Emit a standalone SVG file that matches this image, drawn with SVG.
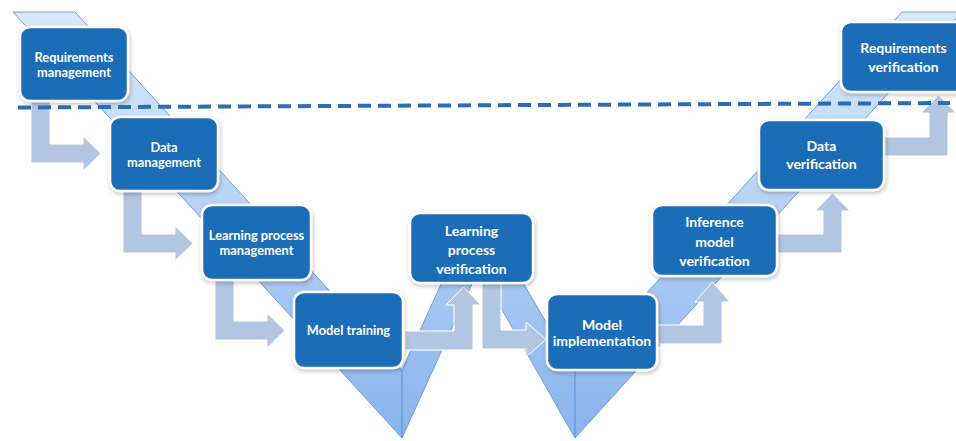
<svg xmlns="http://www.w3.org/2000/svg" width="956" height="441" viewBox="0 0 956 441">
  <defs>
    <linearGradient id="band" gradientUnits="userSpaceOnUse" x1="0" y1="0" x2="0" y2="441">
      <stop offset="0" stop-color="#dcebfc"/>
      <stop offset="0.5" stop-color="#b4d0f5"/>
      <stop offset="1" stop-color="#88b3ec"/>
    </linearGradient>
    <filter id="shadow" x="-10%" y="-10%" width="130%" height="140%">
      <feDropShadow dx="1" dy="2" stdDeviation="2" flood-color="#000" flood-opacity="0.25"/>
    </filter>
  </defs>
  <style>
    .band { fill: url(#band); stroke: #6d9edc; stroke-width: 1; stroke-linejoin: round; }
    .arrow { fill: #b3c6e1; stroke: #ffffff; stroke-width: 1; stroke-linejoin: miter; }
    .box { fill: #1f6db7; stroke: #ffffff; stroke-width: 2.5; filter: url(#shadow); }
    .t { fill: #ffffff; font-family: Lato, "Liberation Sans", sans-serif; font-weight: 700; text-anchor: middle; }
    .s { font-size: 12.8px; }
    .l { font-size: 14px; }
    .dash { fill: none; stroke: #2b6db5; stroke-width: 4; stroke-dasharray: 13 7; }
  </style>
  <rect width="956" height="441" fill="#ffffff"/>

  <g id="v-bands">
    <polygon class="band" points="13,12 75,12 402,370 402,438"/>
    <polygon class="band" points="402,370 456.5,250 487.5,250 402,438"/>
    <polygon class="band" points="468,250 504,250 575,372 575,438"/>
    <polygon class="band" points="575,372 902,12 962,12 575,438"/>
    <line x1="402" y1="370" x2="402" y2="438" stroke="#6d9edc" stroke-width="1"/>
    <line x1="575" y1="372" x2="575" y2="438" stroke="#6d9edc" stroke-width="1"/>
  </g>

  <g id="connectors">
    <path class="arrow" d="M31,100 H50 V144 H83 V136 L101,153.5 L83,171 V163 H31 Z"/>
    <path class="arrow" d="M123,190 H142 V234 H175 V226 L193,243.5 L175,261 V253 H123 Z"/>
    <path class="arrow" d="M215,279 H234 V321 H267 V313 L285,330.5 L267,348 V340 H215 Z"/>
    <path class="arrow" d="M405,331 H454 V305 H446 L463.5,287 L481,305 H473 V350 H405 Z"/>
    <path class="arrow" d="M482,280 H501 V330 H526 V322 L546,339.5 L526,357 V349 H482 Z"/>
    <path class="arrow" d="M655,325 H703 V302 H695 L712.5,282 L730,302 H722 V344 H655 Z"/>
    <path class="arrow" d="M775,234 H823 V211 H815 L832.5,193 L850,211 H842 V253 H775 Z"/>
    <path class="arrow" d="M882,137 H929 V113 H921 L938.5,95 L956,113 H948 V156 H882 Z"/>
  </g>

  <g id="requirements-management">
    <rect class="box" x="20" y="27" width="108" height="74" rx="10"/>
    <text class="t s" x="74" y="61.5">Requirements</text>
    <text class="t s" x="74" y="76.5">management</text>
  </g>
  <g id="data-management">
    <rect class="box" x="110" y="117" width="108" height="74" rx="10"/>
    <text class="t s" x="164" y="151.5">Data</text>
    <text class="t s" x="164" y="166.5">management</text>
  </g>
  <g id="learning-process-management">
    <rect class="box" x="202" y="205" width="109" height="75" rx="10"/>
    <text class="t s" x="256.5" y="239.5">Learning process</text>
    <text class="t s" x="256.5" y="254.5">management</text>
  </g>
  <g id="model-training">
    <rect class="box" x="294" y="292" width="109" height="76" rx="10"/>
    <text class="t s" x="348.5" y="334.5">Model training</text>
  </g>
  <g id="learning-process-verification">
    <rect class="box" x="410" y="213" width="123" height="70" rx="10"/>
    <text class="t l" x="471.5" y="236">Learning</text>
    <text class="t l" x="471.5" y="255">process</text>
    <text class="t l" x="471.5" y="274">verification</text>
  </g>
  <g id="model-implementation">
    <rect class="box" x="547" y="294" width="110" height="76" rx="10"/>
    <text class="t l" x="602" y="330">Model</text>
    <text class="t l" x="602" y="346">implementation</text>
  </g>
  <g id="inference-model-verification">
    <rect class="box" x="652" y="205" width="125" height="71" rx="10"/>
    <text class="t l" x="714.5" y="227">Inference</text>
    <text class="t l" x="714.5" y="246.5">model</text>
    <text class="t l" x="714.5" y="266">verification</text>
  </g>
  <g id="data-verification">
    <rect class="box" x="759" y="120" width="125" height="70" rx="10"/>
    <text class="t l" x="821.5" y="151">Data</text>
    <text class="t l" x="821.5" y="169">verification</text>
  </g>
  <g id="requirements-verification">
    <rect class="box" x="841" y="22" width="125" height="70" rx="10"/>
    <text class="t l" x="903.5" y="53">Requirements</text>
    <text class="t l" x="903.5" y="72">verification</text>
  </g>

  <line class="dash" x1="18" y1="107.5" x2="950" y2="103"/>
</svg>
